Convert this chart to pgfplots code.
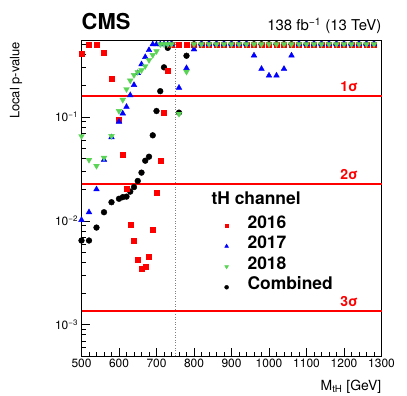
\documentclass[border=0pt]{standalone}
\usepackage{fontspec}
\setmainfont{TeX Gyre Heros}
\usepackage{pgfplots}
\pgfplotsset{compat=1.18}
\definecolor{cmsgreen}{RGB}{89,212,84}
\definecolor{sigred}{RGB}{255,0,0}

% local p-values
\pgfplotstableread{
m p
500 0.403
520 0.5
540 0.5
560 0.418
580 0.235
600 0.0933
610 0.0437
620 0.0206
630 0.00927
640 0.00641
650 0.00418
660 0.00343
670 0.00363
680 0.00447
690 0.00818
700 0.0187
710 0.0377
720 0.110
730 0.276
740 0.5
760 0.5
780 0.5
800 0.5
820 0.5
840 0.5
860 0.5
880 0.5
900 0.5
920 0.5
940 0.5
960 0.5
980 0.5
1000 0.5
1020 0.5
1040 0.5
1060 0.5
1080 0.5
1100 0.5
1120 0.5
1140 0.5
1160 0.5
1180 0.5
1200 0.5
1220 0.5
1240 0.5
1260 0.5
1280 0.5
}\yrA

\pgfplotstableread{
m p
500 0.0102
520 0.0121
540 0.0201
560 0.0386
580 0.0637
600 0.090
610 0.108
620 0.125
630 0.162
640 0.203
650 0.264
660 0.321
670 0.377
680 0.44
690 0.5
700 0.5
710 0.5
720 0.5
730 0.5
740 0.5
760 0.191
780 0.295
800 0.447
820 0.5
840 0.5
860 0.5
880 0.5
900 0.5
920 0.5
940 0.5
960 0.39
980 0.29
1000 0.25
1020 0.25
1040 0.29
1060 0.39
1080 0.5
1100 0.5
1120 0.5
1140 0.5
1160 0.5
1180 0.5
1200 0.5
1220 0.5
1240 0.5
1260 0.5
1280 0.5
}\yrB

\pgfplotstableread{
m p
500 0.0653
520 0.0386
540 0.0338
560 0.0405
580 0.0654
600 0.114
610 0.146
620 0.185
630 0.224
640 0.253
650 0.270
660 0.282
670 0.308
680 0.352
690 0.394
700 0.43
710 0.5
720 0.5
730 0.5
740 0.5
760 0.107
780 0.272
800 0.5
820 0.5
840 0.5
860 0.5
880 0.5
900 0.5
920 0.5
940 0.5
960 0.5
980 0.5
1000 0.5
1020 0.5
1040 0.5
1060 0.5
1080 0.5
1100 0.5
1120 0.5
1140 0.5
1160 0.5
1180 0.5
1200 0.5
1220 0.5
1240 0.5
1260 0.5
1280 0.5
}\yrC

\pgfplotstableread{
m p
500 0.00646
520 0.00646
540 0.00861
560 0.0121
580 0.0151
600 0.0163
610 0.0169
620 0.0171
630 0.0191
640 0.0211
650 0.0242
660 0.0291
670 0.0379
680 0.0414
690 0.0665
700 0.114
710 0.177
720 0.300
730 0.462
740 0.5
760 0.11
780 0.388
800 0.5
820 0.5
840 0.5
860 0.5
880 0.5
900 0.5
920 0.5
940 0.5
960 0.5
980 0.5
1000 0.5
1020 0.5
1040 0.5
1060 0.5
1080 0.5
1100 0.5
1120 0.5
1140 0.5
1160 0.5
1180 0.5
1200 0.5
1220 0.5
1240 0.5
1260 0.5
1280 0.5
}\comb

\begin{document}
\begin{tikzpicture}
\begin{axis}[
    at={(0,0)}, anchor=south west,
    scale only axis, width=300bp, height=316bp,
    xmin=500, xmax=1300,
    ymode=log, ymin=5e-4, ymax=0.55,
    xtick={500,600,...,1300},
    minor x tick num=4,
    ytick={1e-3,1e-2,1e-1},
    yticklabels={10\textsuperscript{−3},10\textsuperscript{−2},10\textsuperscript{−1}},
    minor ytick={6e-4,7e-4,8e-4,9e-4,2e-3,3e-3,4e-3,5e-3,6e-3,7e-3,8e-3,9e-3,2e-2,3e-2,4e-2,5e-2,6e-2,7e-2,8e-2,9e-2,2e-1,3e-1,4e-1,5e-1},
    tick align=inside, xtick pos=bottom, ytick pos=left,
    major tick length=8bp, minor tick length=4bp,
    every tick/.style={black, line width=0.6bp},
    axis line style={line width=0.8bp},
    /pgf/number format/assume math mode=true,
    /pgf/number format/1000 sep={},
    tick label style={font=\fontsize{12}{14}\selectfont},
    clip=false,
    legend cell align=left,
    legend style={draw=none, fill=none, inner sep=0pt, outer sep=0pt,
        at={(rel axis cs:0.477,0.4446)}, anchor=north west,
        column sep=19bp,
        font=\fontsize{17.5}{20}\selectfont\bfseries,
        nodes={inner sep=0pt, text height=12.5bp, text depth=8bp}},
]
% sigma lines and the 750 GeV marker
\addplot[forget plot, gray, dotted, line width=0.6bp] coordinates {(750,5e-4) (750,0.55)};
\addplot[forget plot, sigred, line width=1.7bp] coordinates {(500,0.158655) (1300,0.158655)};
\addplot[forget plot, sigred, line width=1.7bp] coordinates {(500,0.02275) (1300,0.02275)};
\addplot[forget plot, sigred, line width=1.7bp] coordinates {(500,0.00135) (1300,0.00135)};

\addplot[forget plot, only marks, mark=*, mark size=2.9bp, black] table[x=m, y=p] {\comb};
\addplot[forget plot, only marks, mark=square*, mark size=2.5bp, red] table[x=m, y=p] {\yrA};
\addplot[forget plot, only marks, mark=triangle*, mark size=3.3bp, blue] table[x=m, y=p] {\yrB};
\addplot[forget plot, only marks, mark=triangle*, mark size=3.3bp, cmsgreen, mark options={rotate=180}] table[x=m, y=p] {\yrC};

\addlegendimage{only marks, mark=square*, mark size=1.6bp, red}
\addlegendentry{2016}
\addlegendimage{only marks, mark=triangle*, mark size=2.2bp, blue}
\addlegendentry{2017}
\addlegendimage{only marks, mark=triangle*, mark size=2.2bp, cmsgreen, mark options={rotate=180}}
\addlegendentry{2018}
\addlegendimage{only marks, mark=*, mark size=2bp, black}
\addlegendentry{Combined}

\node[anchor=base west, font=\fontsize{17.5}{20}\selectfont\bfseries] at (rel axis cs:0.4217,0.478) {tH channel};
\node[anchor=base east, sigred, font=\fontsize{14}{16}\selectfont\bfseries, xshift=-20bp, yshift=4.5bp] at (axis cs:1300,0.158655) {1σ};
\node[anchor=base east, sigred, font=\fontsize{14}{16}\selectfont\bfseries, xshift=-20bp, yshift=4.5bp] at (axis cs:1300,0.02275) {2σ};
\node[anchor=base east, sigred, font=\fontsize{14}{16}\selectfont\bfseries, xshift=-20bp, yshift=4.5bp] at (axis cs:1300,0.00135) {3σ};

\node[anchor=base west, inner sep=0pt, font=\fontsize{22}{24}\selectfont\bfseries, yshift=10bp] at (rel axis cs:0,1) {CMS};
\node[anchor=base east, inner sep=0pt, font=\fontsize{15}{17}\selectfont, yshift=9bp] at (rel axis cs:1,1) {138 fb\textsuperscript{−1} (13 TeV)};
\node[anchor=base east, inner sep=0pt, font=\fontsize{14}{16}\selectfont, yshift=-34bp] at (rel axis cs:1,0) {M\textsubscript{tH} [GeV]};
\path (rel axis cs:0,1) ++(-62bp,-2bp) node[anchor=base east, inner sep=0pt, rotate=90, font=\fontsize{13}{15}\selectfont] {Local p-value};
\end{axis}
\pgfresetboundingbox
\path (-81.5bp,-40bp) rectangle (325.5bp,356bp);
\end{tikzpicture}
\end{document}
